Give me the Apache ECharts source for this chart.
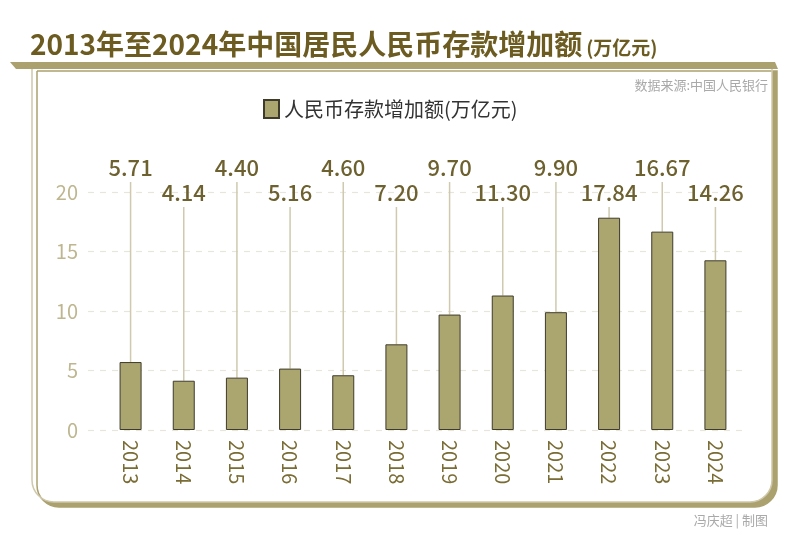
<!DOCTYPE html>
<html>
<head>
<meta charset="utf-8">
<script src="https://cdn.jsdelivr.net/npm/echarts@6/dist/echarts.min.js"></script>
<style>
html, body { margin: 0; padding: 0; background: #fff; }
#container { width: 800px; height: 546px; }
</style>
</head>
<body>
<div id="container"></div>
<script>
var years = ['2013', '2014', '2015', '2016', '2017', '2018', '2019', '2020', '2021', '2022', '2023', '2024'];
var deposits = [5.71, 4.14, 4.40, 5.16, 4.60, 7.20, 9.70, 11.30, 9.90, 17.84, 16.67, 14.26];
var yTicks = [0, 5, 10, 15, 20];

var font = 'Noto Sans CJK SC';
var dark = '#6e6130';
var khaki = '#aba16f';

var dom = document.getElementById('container');
var myChart = echarts.init(dom);

// 标签高低错开
var labelY = [168, 193];

var option = {
	backgroundColor: '#fff',
	animation: false,
	textStyle: { fontFamily: font },
	graphic: [
		{
			type: 'rect',
			z: -10,
			shape: { x: 32, y: 66, width: 740, height: 436, r: [0, 0, 22, 22] },
			style: {
				fill: '#fff',
				stroke: '#cfc8ab',
				lineWidth: 1.5,
				shadowColor: khaki,
				shadowOffsetX: 5,
				shadowOffsetY: 5,
				shadowBlur: 0
			}
		},
		{
			type: 'polygon',
			z: -5,
			shape: { points: [[10, 62], [775, 62], [778, 69], [16, 69]] },
			style: { fill: khaki }
		},
		{
			type: 'text',
			left: 30,
			top: 30,
			style: {
				text: '{a|2013年至2024年中国居民人民币存款增加额}{b|(万亿元)}',
				rich: {
					a: { fontSize: 28, fontWeight: 'bold', fill: '#6d5c22', fontFamily: font },
					b: { fontSize: 19, fontWeight: 'bold', fill: '#6d5c22', fontFamily: font, padding: [7, 0, 0, 4] }
				}
			}
		},
		{
			type: 'text',
			right: 32,
			top: 79,
			style: { text: '数据来源:中国人民银行', fontSize: 13, fill: '#a9a9a9', fontFamily: font }
		},
		{
			type: 'text',
			right: 32,
			top: 514,
			style: { text: '冯庆超 | 制图', fontSize: 13, fill: '#a9a9a9', fontFamily: font }
		}
	],
	legend: {
		left: 258,
		top: 94,
		itemWidth: 15,
		itemHeight: 18,
		icon: 'rect',
		textStyle: { fontSize: 20, color: '#333', fontFamily: font },
		data: ['人民币存款增加额(万亿元)']
	},
	grid: [
		{ left: 104, right: 58, top: 192, bottom: 116 },
		{ left: 88, right: 52, top: 192, bottom: 116 }
	],
	xAxis: [
		{
			type: 'category',
			gridIndex: 0,
			data: years,
			axisLine: { show: false },
			axisTick: { show: false },
			axisLabel: {
				rotate: -90,
				margin: 10,
				fontSize: 20,
				color: '#7a6c35',
				fontFamily: font
			}
		},
		{
			type: 'value',
			gridIndex: 1,
			min: 0,
			max: 1,
			show: false
		}
	],
	yAxis: [
		{
			type: 'value',
			gridIndex: 0,
			min: 0,
			max: 20,
			interval: 5,
			show: false
		},
		{
			type: 'value',
			gridIndex: 1,
			min: yTicks[0],
			max: yTicks[yTicks.length - 1],
			interval: 5,
			axisLine: { show: false },
			axisTick: { show: false },
			axisLabel: { fontSize: 20, color: '#bdb68f', margin: 10, fontFamily: font },
			splitLine: { lineStyle: { color: '#e8e6dc', type: [6, 6], width: 1.2 } }
		}
	],
	series: [
		{
			type: 'custom',
			xAxisIndex: 0,
			yAxisIndex: 0,
			silent: true,
			z: 1,
			data: deposits.map(function (v, i) { return [i, v]; }),
			renderItem: function (params, api) {
				var p = api.coord([api.value(0), api.value(1)]);
				var ly = labelY[params.dataIndex % 2];
				return {
					type: 'group',
					children: [
						{
							type: 'line',
							shape: { x1: p[0], y1: ly + 14, x2: p[0], y2: p[1] },
							style: { stroke: '#cfc9ae', lineWidth: 1.5 }
						},
						{
							type: 'text',
							x: p[0],
							y: ly,
							style: {
								text: api.value(1).toFixed(2),
								fontSize: 22,
								fontWeight: 500,
								fill: dark,
								fontFamily: font,
								align: 'center',
								verticalAlign: 'middle'
							}
						}
					]
				};
			}
		},
		{
			name: '人民币存款增加额(万亿元)',
			type: 'bar',
			xAxisIndex: 0,
			yAxisIndex: 0,
			z: 3,
			barWidth: 22,
			data: deposits,
			itemStyle: {
				color: '#aba56f',
				borderColor: '#3f3b2b',
				borderWidth: 1
			}
		}
	]
};

myChart.setOption(option);
</script>
</body>
</html>
